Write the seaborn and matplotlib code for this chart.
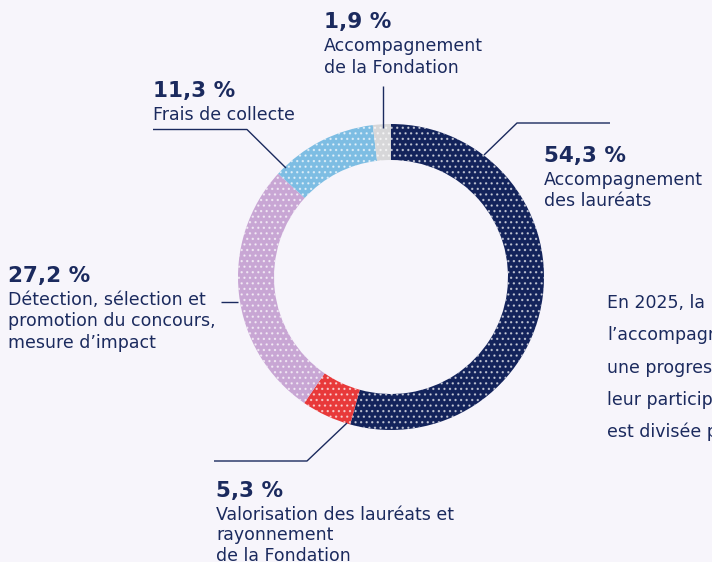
import numpy as np
import seaborn as sns
import matplotlib.pyplot as plt

# shares of the 2025 budget, clockwise from 12 o'clock
categories = ["Accompagnement des lauréats",
              "Valorisation des lauréats et rayonnement de la Fondation",
              "Détection, sélection et promotion du concours, mesure d'impact",
              "Frais de collecte",
              "Accompagnement de la Fondation"]
values = [54.3, 5.3, 27.2, 11.3, 1.9]
colors = ["#13235b", "#e8393a", "#c8a6d4", "#7dbde3", "#d7d7d9"]

# label text shown next to each slice
label_lines = [["Accompagnement", "des lauréats"],
               ["Valorisation des lauréats et", "rayonnement", "de la Fondation"],
               ["Détection, sélection et", "promotion du concours,", "mesure d\u2019impact"],
               ["Frais de collecte"],
               ["Accompagnement", "de la Fondation"]]

side_text = ["En 2025, la part",
             "l\u2019accompagnement",
             "une progression",
             "leur participation",
             "est divisée par"]

BG = "#f7f5fb"
NAVY = "#1b2a5e"
W, H = 712, 562

sns.set_theme(style="white")
plt.rcParams["font.family"] = ["DejaVu Sans"]
plt.rcParams["hatch.linewidth"] = 0.9

fig = plt.figure(figsize=(W / 100, H / 100), dpi=100, facecolor=BG)
ax = fig.add_axes([0, 0, 1, 1])
ax.set_facecolor(BG)


def py(y):
    # pixel row -> data y
    return H - y


cx, cy, r_out, ring = 391, 277, 153, 36
wedges, _ = ax.pie(values, colors=colors, startangle=90, counterclock=False,
                   radius=r_out, center=(cx, py(cy)),
                   wedgeprops=dict(width=ring, linewidth=0,
                                   edgecolor=(1, 1, 1, 0.6), hatch="..."))
ax.set_xlim(0, W)
ax.set_ylim(0, H)
ax.set_aspect("equal")
ax.axis("off")

# label anchors: (x, baseline of the percentage, line step)
anchors = [(544, 162, 21), (216, 497, 20.5), (8, 282, 21.5), (153, 97, 21), (324, 28, 22)]
for vals, lines, (x, yb, step) in zip(values, label_lines, anchors):
    pct = f"{vals:.1f}".replace(".", ",") + " %"
    ax.text(x, py(yb), pct, fontsize=15.5, fontweight="bold", color=NAVY,
            va="baseline", ha="left")
    for i, line in enumerate(lines):
        ax.text(x, py(yb + 23 + i * step), line, fontsize=12.5, color=NAVY,
                va="baseline", ha="left")

# leader lines
leaders = [[(610, 123), (517, 123), (484, 155)],
           [(214, 461), (307, 461), (347, 423)],
           [(221, 302), (238, 302)],
           [(153, 129.5), (247, 129.5), (286, 168)],
           [(383, 86), (383, 128)]]
for pts in leaders:
    xs = [p[0] for p in pts]
    ys = [py(p[1]) for p in pts]
    ax.plot(xs, ys, color=NAVY, lw=1.0, solid_capstyle="butt")

for i, line in enumerate(side_text):
    ax.text(607, py(308 + i * 32.3), line, fontsize=12.5, color=NAVY,
            va="baseline", ha="left")

fig.savefig("out.png", dpi=100, facecolor=BG)
